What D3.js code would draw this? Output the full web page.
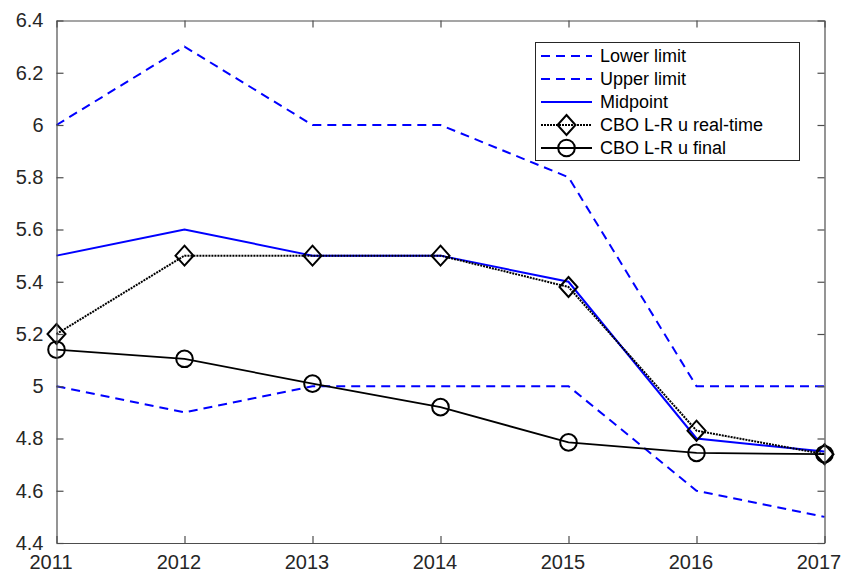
<!DOCTYPE html>
<html>
<head>
<meta charset="utf-8">
<script src="https://cdn.jsdelivr.net/npm/d3@7"></script>
<style>
  html, body { margin: 0; padding: 0; background: #fff; }
  svg { display: block; font-family: "Liberation Sans", Arial, sans-serif; }
</style>
</head>
<body>
<svg id="chart" width="843" height="573"></svg>
<script>
// Years on the horizontal axis
const years = [2011, 2012, 2013, 2014, 2015, 2016, 2017];
// Range of estimates
const lowerLimit = [5.0, 4.9, 5.0, 5.0, 5.0, 4.6, 4.5];
const upperLimit = [6.0, 6.3, 6.0, 6.0, 5.8, 5.0, 5.0];
const midpoint   = [5.5, 5.6, 5.5, 5.5, 5.4, 4.8, 4.75];
// CBO long-run unemployment rate estimates
const cboRealTime = [5.2, 5.5, 5.5, 5.5, 5.38, 4.83, 4.74];
const cboFinal    = [5.14, 5.105, 5.01, 4.92, 4.785, 4.745, 4.74];
// Tick values
const yTicks = [4.4, 4.6, 4.8, 5.0, 5.2, 5.4, 5.6, 5.8, 6.0, 6.2, 6.4];

const svg = d3.select("#chart");
const plotLeft = 56.5, plotRight = 824.5, plotTop = 20.5, plotBottom = 543;

const x = d3.scaleLinear().domain([2011, 2017]).range([plotLeft, plotRight]);
const y = d3.scaleLinear().domain([4.4, 6.4]).range([plotBottom, plotTop]);

const axisColor = "#4d4d4d";
const textColor = "#262626";

// Series definitions
const series = [
  { name: "Lower limit", values: lowerLimit, color: "#0000ff", width: 2, dash: "9,6", marker: null },
  { name: "Upper limit", values: upperLimit, color: "#0000ff", width: 2, dash: "9,6", marker: null },
  { name: "Midpoint", values: midpoint, color: "#0000ff", width: 2, dash: null, marker: null },
  { name: "CBO L-R u real-time", values: cboRealTime, color: "#000", width: 2, dash: "2,1", marker: "diamond" },
  { name: "CBO L-R u final", values: cboFinal, color: "#000", width: 1.8, dash: null, marker: "circle" }
];

const line = d3.line().x((d, i) => x(years[i])).y(d => y(d));

function drawMarker(g, type, cx, cy) {
  if (type === "diamond") {
    g.append("path")
      .attr("d", `M${cx},${cy - 10}L${cx + 9},${cy}L${cx},${cy + 10}L${cx - 9},${cy}Z`)
      .attr("fill", "none").attr("stroke", "#000").attr("stroke-width", 2);
  } else if (type === "circle") {
    g.append("circle").attr("cx", cx).attr("cy", cy).attr("r", 8.3)
      .attr("fill", "none").attr("stroke", "#000").attr("stroke-width", 2);
  }
}

// Plot lines
const plot = svg.append("g");
series.forEach(s => {
  plot.append("path")
    .datum(s.values)
    .attr("d", line)
    .attr("fill", "none")
    .attr("stroke", s.color)
    .attr("stroke-width", s.width)
    .attr("stroke-dasharray", s.dash);
  if (s.marker) {
    s.values.forEach((v, i) => drawMarker(plot, s.marker, x(years[i]), y(v)));
  }
});

// Axes (box with inward ticks on all sides)
const fmtY = d => String(+d.toFixed(1));
const axB = svg.append("g").attr("transform", `translate(0,${plotBottom})`)
  .call(d3.axisBottom(x).tickValues(years).tickFormat(d3.format("d")).tickSizeInner(-7).tickSizeOuter(0).tickPadding(11.5));
const axT = svg.append("g").attr("transform", `translate(0,${plotTop})`)
  .call(d3.axisTop(x).tickValues(years).tickFormat("").tickSizeInner(-7).tickSizeOuter(0));
const axL = svg.append("g").attr("transform", `translate(${plotLeft},0)`)
  .call(d3.axisLeft(y).tickValues(yTicks).tickFormat(fmtY).tickSizeInner(-7).tickSizeOuter(0).tickPadding(13));
const axR = svg.append("g").attr("transform", `translate(${plotRight},0)`)
  .call(d3.axisRight(y).tickValues(yTicks).tickFormat("").tickSizeInner(-7).tickSizeOuter(0));

[axB, axT, axL, axR].forEach(a => {
  a.selectAll("path.domain").attr("stroke", axisColor).attr("stroke-width", 1.2);
  a.selectAll(".tick line").attr("stroke", axisColor).attr("stroke-width", 1.2);
  a.selectAll("text").attr("fill", textColor).style("font-size", "20px")
    .style("font-family", "'Liberation Sans', Arial, sans-serif");
});
axB.selectAll("text").attr("dx", -6);

// Legend
const lg = svg.append("g");
lg.append("rect").attr("x", 535.5).attr("y", 42.5).attr("width", 264).attr("height", 118)
  .attr("fill", "#fff").attr("stroke", "#262626").attr("stroke-width", 1);
series.forEach((s, i) => {
  const ly = 56 + i * 23;
  lg.append("line").attr("x1", 541).attr("x2", 592).attr("y1", ly).attr("y2", ly)
    .attr("stroke", s.color).attr("stroke-width", s.width).attr("stroke-dasharray", s.dash);
  if (s.marker) drawMarker(lg, s.marker, 566.5, ly);
  lg.append("text").attr("x", 600).attr("y", ly).attr("dy", "0.35em")
    .attr("fill", "#000").style("font-size", "18px")
    .text(s.name);
});
</script>
</body>
</html>
